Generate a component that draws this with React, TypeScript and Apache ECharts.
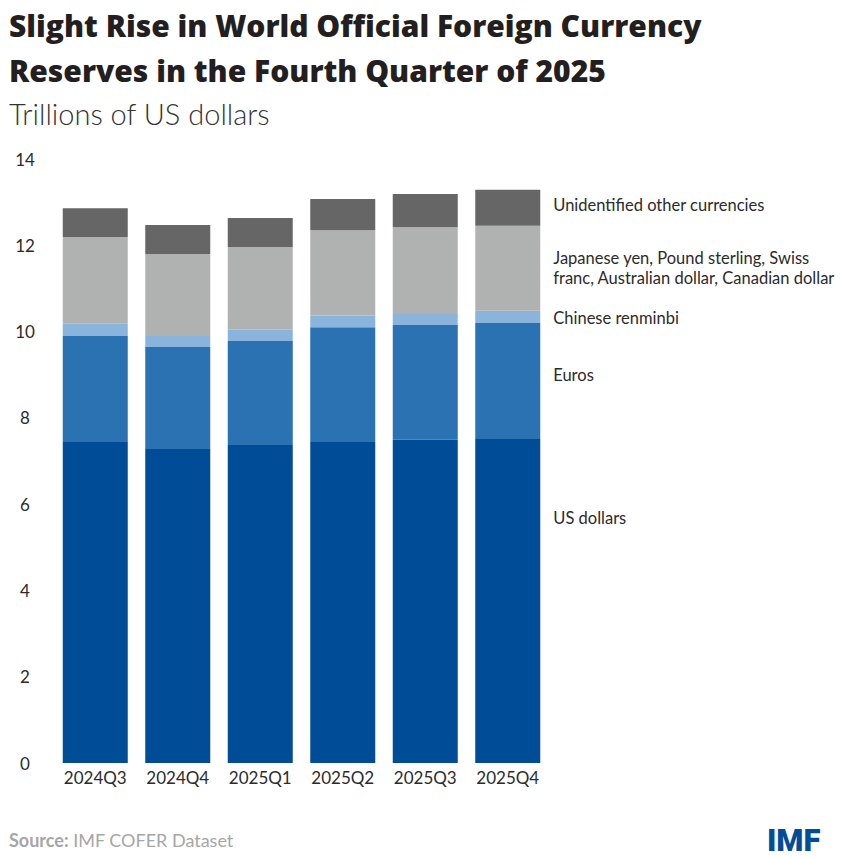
import { useEffect, useRef } from "react";
import * as echarts from "echarts";

const FONT = "Lato, 'Noto Sans', sans-serif";
const TITLE_FONT = "'Open Sans', 'Noto Sans', sans-serif";
const INK = "#231F20";
const LABEL = "#2B2B2B";

const QUARTERS = ["2024Q3", "2024Q4", "2025Q1", "2025Q2", "2025Q3", "2025Q4"];

// trillions of US dollars
const USD = [7.44, 7.28, 7.37, 7.44, 7.49, 7.51];
const EUR = [2.46, 2.36, 2.41, 2.66, 2.66, 2.69];
const CNY = [0.28, 0.26, 0.26, 0.27, 0.26, 0.28];
const OTHER = [2.01, 1.9, 1.92, 1.98, 2.01, 1.97];
const UNID = [0.67, 0.67, 0.67, 0.72, 0.77, 0.84];

const SERIES = [
  { name: "US dollars", data: USD, color: "#004C97", dy: -83 },
  { name: "Euros", data: EUR, color: "#2A72B2", dy: -6 },
  { name: "Chinese renminbi", data: CNY, color: "#8AB4DC", dy: 1 },
  {
    name: "Japanese yen, Pound sterling, Swiss\nfranc, Australian dollar, Canadian dollar",
    data: OTHER,
    color: "#B0B2B1",
    dy: 0,
  },
  { name: "Unidentified other currencies", data: UNID, color: "#666666", dy: -3 },
];

function buildOption() {
  const series = SERIES.map((s) => ({
    type: "bar",
    name: s.name,
    stack: "total",
    barWidth: 65,
    itemStyle: { color: s.color },
    // label only on the last bar, placed to its right like a direct legend
    data: s.data.map((v, i) =>
      i === s.data.length - 1
        ? {
            value: v,
            label: {
              show: true,
              position: "right",
              distance: 13,
              offset: [0, s.dy],
              formatter: () => s.name,
              color: LABEL,
              fontFamily: FONT,
              fontSize: 16.5,
              lineHeight: 20,
            },
          }
        : v
    ),
  }));

  return {
    animation: false,
    textStyle: { fontFamily: FONT },
    grid: { left: 54, right: 294, top: 159, bottom: 96 },
    xAxis: {
      type: "category",
      data: QUARTERS,
      axisLine: { show: false },
      axisTick: { show: false },
      axisLabel: { color: LABEL, fontSize: 17, margin: 6, fontFamily: FONT },
    },
    yAxis: {
      type: "value",
      min: 0,
      max: 14,
      interval: 2,
      splitLine: { show: false },
      axisLine: { show: false },
      axisTick: { show: false },
      axisLabel: { color: LABEL, fontSize: 17, margin: 29, align: "center", fontFamily: FONT },
    },
    graphic: [
      {
        type: "text",
        left: 9,
        top: 10,
        style: {
          text: "Slight Rise in World Official Foreign Currency",
          fill: INK,
          font: `800 30px ${TITLE_FONT}`,
        },
      },
      {
        type: "text",
        left: 9,
        top: 55,
        style: {
          text: "Reserves in the Fourth Quarter of 2025",
          fill: INK,
          font: `800 30px ${TITLE_FONT}`,
        },
      },
      {
        type: "text",
        left: 9,
        top: 99,
        style: {
          text: "Trillions of US dollars",
          fill: "#333333",
          font: `300 29px ${FONT}`,
        },
      },
      {
        type: "text",
        left: 9,
        top: 831,
        style: {
          text: "{b|Source:} IMF COFER Dataset",
          fill: "#A6A6A6",
          font: `18px ${FONT}`,
          rich: {
            b: { fontWeight: "bold", fill: "#A6A6A6", fontSize: 18, fontFamily: FONT },
          },
        },
      },
      {
        type: "text",
        left: 767,
        top: 825,
        style: {
          text: "IMF",
          fill: "#004C97",
          font: `900 31px Roboto, ${FONT}`,
        },
      },
    ],
    series,
  };
}

export default function App() {
  const ref = useRef<HTMLDivElement>(null);

  useEffect(() => {
    document.body.style.margin = "0";
    if (!ref.current) return;
    const chart = echarts.init(ref.current, null, { renderer: "svg" });
    chart.setOption(buildOption());
    return () => chart.dispose();
  }, []);

  return <div ref={ref} style={{ width: 843, height: 859, background: "#fff" }} />;
}
